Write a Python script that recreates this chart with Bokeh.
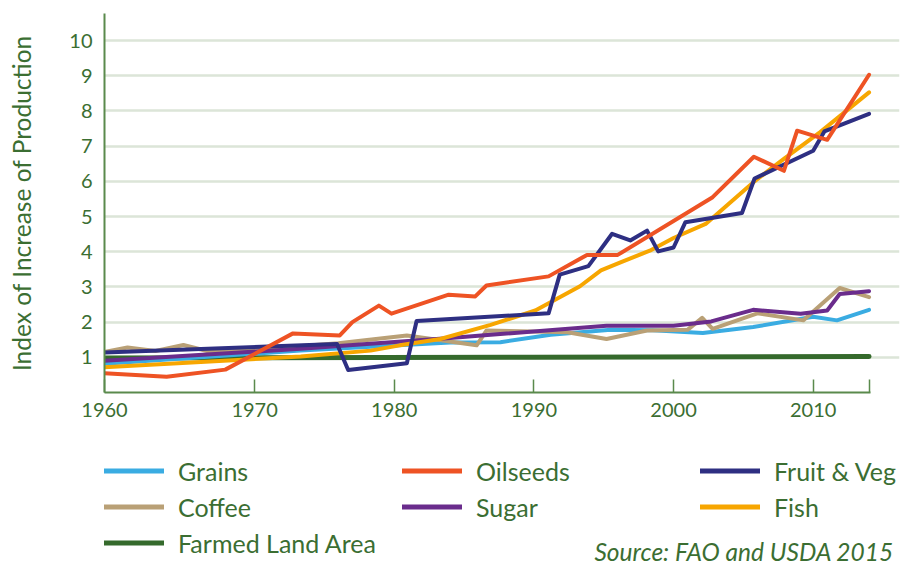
from bokeh.plotting import figure
from bokeh.models import Range1d, FixedTicker, Legend, LegendItem, Label
from bokeh.layouts import column
from bokeh.embed import file_html
from bokeh.resources import INLINE

# ---------------- data ----------------
x_start = 1959.25
x_end = 2016.18
x_grid_end = 2014.82
x_axis_end = 2014.1
y_max = 10.77

grains_year = [1959.25, 1973.3, 1984.0, 1987.6, 1991.2, 1995.5, 1998.5, 2002.1, 2005.7, 2010.0, 2011.7, 2014.0]
grains_val = [0.82, 1.19, 1.42, 1.43, 1.64, 1.78, 1.77, 1.69, 1.86, 2.15, 2.05, 2.35]

coffee_year = [1959.25, 1960.9, 1962.9, 1964.9, 1966.6, 1970.0, 1976.0, 1980.9, 1985.9, 1986.6,
               1992.4, 1995.2, 1998.1, 2001.0, 2002.05, 2002.8, 2006.0, 2009.3, 2011.9, 2014.0]
coffee_val = [1.15, 1.28, 1.18, 1.35, 1.18, 1.22, 1.40, 1.62, 1.34, 1.76,
              1.71, 1.52, 1.76, 1.78, 2.12, 1.81, 2.25, 2.05, 2.97, 2.71]

land_year = [1959.25, 1990.0, 2014.0]
land_val = [0.98, 1.0, 1.02]

sugar_year = [1959.25, 1973.3, 1984.0, 1986.9, 1995.2, 2000.0, 2002.7, 2005.7, 2009.1, 2011.0, 2011.9, 2014.0]
sugar_val = [0.90, 1.24, 1.55, 1.64, 1.90, 1.90, 2.02, 2.35, 2.24, 2.33, 2.80, 2.88]

fish_year = [1959.25, 1973.3, 1978.3, 1980.4, 1983.3, 1986.9, 1990.1, 1993.3, 1994.8, 1996.2,
             1998.3, 2000.0, 2002.3, 2005.7, 2007.9, 2010.5, 2014.0]
fish_val = [0.72, 1.02, 1.19, 1.34, 1.52, 1.92, 2.33, 3.02, 3.47, 3.70,
            4.03, 4.39, 4.79, 5.97, 6.64, 7.40, 8.53]

fv_year = [1959.25, 1975.9, 1976.7, 1980.9, 1981.6, 1991.05, 1991.85, 1993.9, 1995.6, 1996.9,
           1998.1, 1998.9, 2000.0, 2000.85, 2004.9, 2005.8, 2010.0, 2010.8, 2014.0]
fv_val = [1.14, 1.38, 0.64, 0.83, 2.03, 2.25, 3.35, 3.59, 4.51, 4.32,
          4.60, 4.01, 4.12, 4.84, 5.10, 6.08, 6.87, 7.42, 7.92]

oil_year = [1959.25, 1963.7, 1967.9, 1972.75, 1976.1, 1977.0, 1978.9, 1979.8, 1983.9, 1985.8,
            1986.6, 1991.05, 1993.8, 1996.0, 2002.8, 2005.75, 2007.9, 2008.85, 2011.0, 2014.0]
oil_val = [0.55, 0.45, 0.65, 1.68, 1.62, 2.00, 2.47, 2.24, 2.78, 2.73,
           3.04, 3.30, 3.91, 3.91, 5.55, 6.70, 6.30, 7.44, 7.18, 9.03]

y_ticks = [1, 2, 3, 4, 5, 6, 7, 8, 9, 10]
x_ticks = [x_start, 1970, 1980, 1990, 2000, 2010, 2014]
x_tick_labels = ["1960", "1970", "1980", "1990", "2000", "2010", ""]

legend_labels = ["Grains", "Oilseeds", "Fruit & Veg", "Coffee", "Sugar", "Fish", "Farmed Land Area"]
source_text = "Source: FAO and USDA 2015"

# ---------------- styling ----------------
FONT = "Lato"
TEXT = "#3B6E32"
AXIS = "#5A8A4C"
GRID = "#DCE5D8"

C_GRAINS = "#3AACE2"
C_COFFEE = "#B9A076"
C_LAND = "#356A2C"
C_SUGAR = "#6A2C8C"
C_FISH = "#F7A600"
C_FV = "#2E2F82"
C_OIL = "#EE5324"

W = 901
H_MAIN = 430
H_LEG = 137

p = figure(width=W, height=H_MAIN, output_backend="svg", toolbar_location=None,
           x_range=Range1d(x_start, x_end), y_range=Range1d(0, y_max),
           min_border_left=104, min_border_right=2, min_border_top=13, min_border_bottom=38)
p.outline_line_color = None
p.background_fill_color = "white"
p.border_fill_color = "white"

p.xgrid.visible = False
p.ygrid.ticker = FixedTicker(ticks=y_ticks)
p.ygrid.grid_line_color = GRID
p.ygrid.grid_line_width = 2.5
p.ygrid.bounds = (x_start, x_grid_end)

# x axis
xa = p.xaxis[0]
xa.ticker = FixedTicker(ticks=x_ticks)
xa.major_label_overrides = {t: l for t, l in zip(x_ticks, x_tick_labels)}
xa.minor_tick_line_color = None
xa.major_tick_in = 13
xa.major_tick_out = 0
xa.major_tick_line_color = AXIS
xa.major_tick_line_width = 1.5
xa.axis_line_color = AXIS
xa.axis_line_width = 2
xa.bounds = (x_start, x_axis_end)
xa.major_label_text_font = FONT
xa.major_label_text_font_size = "20px"
xa.major_label_text_color = TEXT
xa.major_label_standoff = 10

# y axis
ya = p.yaxis[0]
ya.ticker = FixedTicker(ticks=y_ticks)
ya.minor_tick_line_color = None
ya.major_tick_in = 0
ya.major_tick_out = 0
ya.axis_line_color = AXIS
ya.axis_line_width = 2
ya.major_label_text_font = FONT
ya.major_label_text_font_size = "20px"
ya.major_label_text_color = TEXT
ya.major_label_standoff = 12
ya.axis_label = "Index of Increase of Production"
ya.axis_label_text_font = FONT
ya.axis_label_text_font_size = "24.5px"
ya.axis_label_text_font_style = "normal"
ya.axis_label_text_color = TEXT
ya.axis_label_standoff = 30

kw = dict(line_width=4, line_cap="round", line_join="round")
p.line(land_year, land_val, line_color=C_LAND, **dict(kw, line_width=5))
p.line(grains_year, grains_val, line_color=C_GRAINS, **kw)
p.line(coffee_year, coffee_val, line_color=C_COFFEE, **kw)
p.line(sugar_year, sugar_val, line_color=C_SUGAR, **kw)
p.line(fish_year, fish_val, line_color=C_FISH, **kw)
p.line(fv_year, fv_val, line_color=C_FV, **kw)
p.line(oil_year, oil_val, line_color=C_OIL, **kw)

# ---------------- legend + source panel (frame aligned with the chart's) ----------------
q = figure(width=W, height=H_LEG, output_backend="svg", toolbar_location=None,
           x_range=Range1d(0, 1), y_range=Range1d(0, 1),
           x_axis_location=None, y_axis_location=None,
           min_border_left=0, min_border_right=0, min_border_top=0, min_border_bottom=0)
q.outline_line_color = None
q.grid.visible = False
q.background_fill_color = "white"
q.border_fill_color = "white"

legend_colors = [C_GRAINS, C_OIL, C_FV, C_COFFEE, C_SUGAR, C_FISH, C_LAND]
nan = float("nan")
items = []
for lab, col in zip(legend_labels, legend_colors):
    r = q.line([nan], [nan], line_color=col, line_width=5, line_cap="round")
    items.append(LegendItem(label=lab, renderers=[r]))

legend = Legend(items=items, orientation="horizontal", ncols=3,
                location=(0, 9.5), margin=0, padding=0, spacing=6,
                glyph_width=60, glyph_height=29, label_height=29, label_width=218,
                label_standoff=14,
                label_text_font=FONT, label_text_font_size="25px", label_text_color=TEXT,
                border_line_color=None, background_fill_alpha=0)
q.add_layout(legend, "center")

src = Label(x=490, y=16, x_units="screen", y_units="screen",
            text=source_text, text_font=FONT, text_font_size="24.5px",
            text_font_style="italic", text_color=TEXT, text_baseline="alphabetic")
q.add_layout(src)

layout = column(p, q, spacing=0)
open("out.html", "w").write(file_html(layout, INLINE))
